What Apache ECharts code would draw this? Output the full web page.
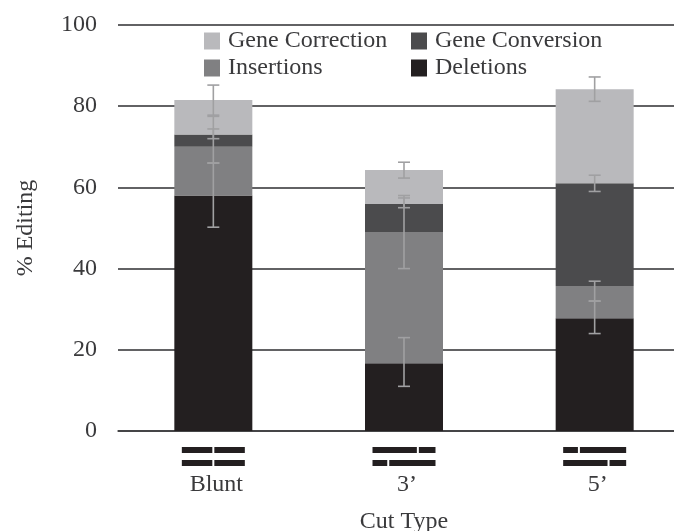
<!DOCTYPE html>
<html>
<head>
<meta charset="utf-8">
<style>html,body{margin:0;padding:0;background:#fff;overflow:hidden}#c{width:674px;height:531px}</style>
<script src="https://cdn.jsdelivr.net/npm/echarts@6/dist/echarts.min.js"></script>
</head>
<body>
<div id="c"></div>
<script>
const categories = ['Blunt', "3'", "5'"];
const tickLabels = ['Blunt', '3’', '5’'];
const deletions = [58, 16.7, 27.8];
const insertions = [12, 32.3, 7.9];
const geneConversion = [3, 6.9, 25.3];
const geneCorrection = [8.5, 8.4, 23.2];
const deletionsErr = [[50.2, 66], [11, 23], [24, 32]];
const insertionsErr = [[66, 74.4], [40, 57.4], [32, 36.9]];
const conversionErr = [[72, 77.5], [55, 58], [59, 63]];
const correctionErr = [[77.8, 85.2], [62.3, 66.2], [81.2, 87.2]];
const cutTop = [0.5, 0.72, 0.25];
const cutBottom = [0.5, 0.25, 0.72];

const FONT = '"Liberation Serif","Times New Roman",serif';
const TXT = '#3a3a3c';
const colors = { corr: '#b9b9bc', conv: '#4b4b4d', ins: '#808082', del: '#231f20' };

const bar = (name, data, color) => ({
  name, type: 'bar', stack: 'e', data, barWidth: 78,
  itemStyle: { color }, emphasis: { disabled: true }, z: 2
});

const errSeries = (name, ranges) => ({
  name, type: 'custom', coordinateSystem: 'cartesian2d', z: 4, clip: false, silent: true,
  data: ranges.map((r, i) => [i, r[0], r[1]]),
  encode: { x: 0, y: [1, 2] },
  renderItem(params, api) {
    const lo = api.coord([api.value(0), api.value(1)]);
    const hi = api.coord([api.value(0), api.value(2)]);
    const style = { stroke: '#a0a0a2', lineWidth: 1.6, fill: null };
    const line = (x1, y1, x2, y2) => ({ type: 'line', shape: { x1, y1, x2, y2 }, style });
    return { type: 'group', children: [
      line(lo[0], lo[1], hi[0], hi[1]),
      line(lo[0] - 6, lo[1], lo[0] + 6, lo[1]),
      line(hi[0] - 6, hi[1], hi[0] + 6, hi[1])
    ]};
  }
});

const cutSeries = {
  name: 'cut', type: 'custom', coordinateSystem: 'cartesian2d', z: 5, clip: false, silent: true,
  data: categories.map((c, i) => [i, 0, cutTop[i], cutBottom[i]]),
  encode: { x: 0, y: 1 },
  renderItem(params, api) {
    const p = api.coord([api.value(0), 0]);
    const w = 63, x0 = p[0] - w / 2;
    const strand = (frac, y, h) => {
      const m = x0 + w * frac;
      return [
        { type: 'rect', shape: { x: x0, y, width: m - x0 - 1, height: h }, style: { fill: '#231f20' } },
        { type: 'rect', shape: { x: m + 1, y, width: x0 + w - m - 1, height: h }, style: { fill: '#231f20' } }
      ];
    };
    return { type: 'group', children: [
      ...strand(api.value(2), p[1] + 16, 6),
      ...strand(api.value(3), p[1] + 29, 6)
    ]};
  }
};

const legendBase = {
  orient: 'vertical', top: 24, itemWidth: 16, itemHeight: 17, itemGap: 3,
  selectedMode: false, icon: 'rect',
  textStyle: { fontFamily: FONT, fontSize: 24, color: TXT, padding: [0, 0, 0, 3] }
};

const chart = echarts.init(document.getElementById('c'), null, { renderer: 'canvas' });
chart.setOption({
  animation: false,
  backgroundColor: '#fff',
  grid: { left: 118, top: 25, width: 572, height: 406, containLabel: false, outerBoundsMode: 'none' },
  legend: [
    { ...legendBase, left: 199, data: ['Gene Correction', 'Insertions'] },
    { ...legendBase, left: 406, data: ['Gene Conversion', 'Deletions'] }
  ],
  xAxis: {
    type: 'category', data: categories,
    axisTick: { show: false },
    axisLine: { lineStyle: { color: '#3c3c3e', width: 1.5 } },
    axisLabel: {
      margin: 42, fontFamily: FONT, fontSize: 24, color: TXT, padding: [0, 0, 0, 6],
      formatter: (v, i) => tickLabels[i]
    },
    name: 'Cut Type', nameLocation: 'middle', nameGap: 79,
    nameTextStyle: { fontFamily: FONT, fontSize: 24, color: TXT }
  },
  yAxis: {
    type: 'value', min: 0, max: 100, interval: 20,
    axisLine: { show: false }, axisTick: { show: false },
    splitLine: { lineStyle: { color: '#2e2e30', width: 1.5 } },
    axisLabel: { margin: 21, fontFamily: FONT, fontSize: 24, color: TXT },
    name: '% Editing', nameLocation: 'middle', nameGap: 80, nameRotate: 90,
    nameTextStyle: { fontFamily: FONT, fontSize: 24, color: TXT }
  },
  series: [
    bar('Deletions', deletions, colors.del),
    bar('Insertions', insertions, colors.ins),
    bar('Gene Conversion', geneConversion, colors.conv),
    bar('Gene Correction', geneCorrection, colors.corr),
    errSeries('err-del', deletionsErr),
    errSeries('err-ins', insertionsErr),
    errSeries('err-conv', conversionErr),
    errSeries('err-corr', correctionErr),
    cutSeries
  ]
});
</script>
</body>
</html>
